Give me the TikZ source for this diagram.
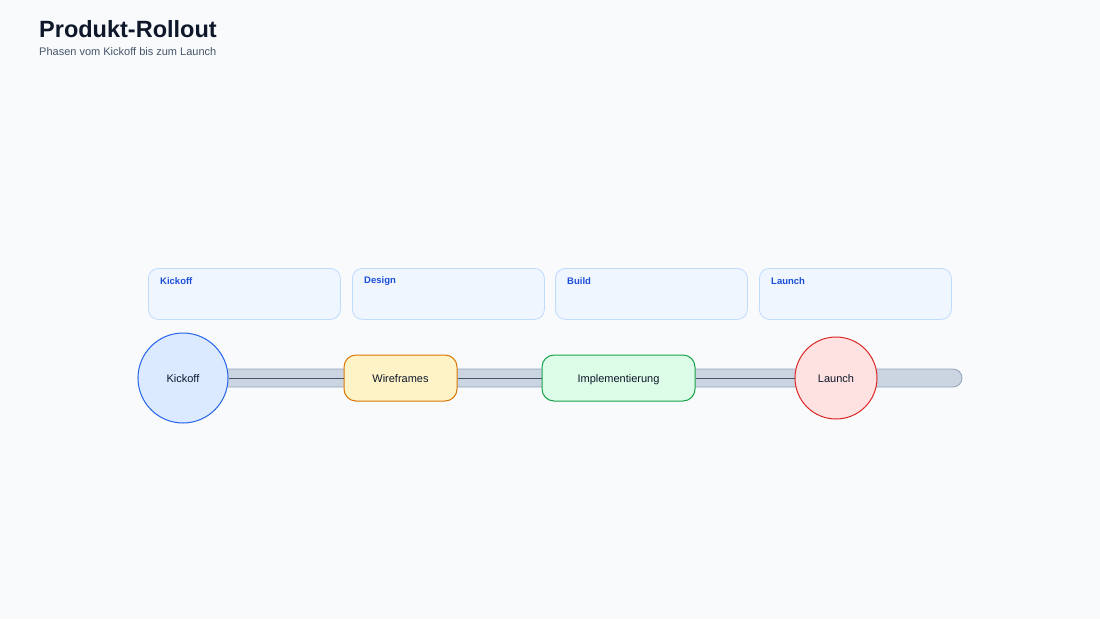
\documentclass[tikz,border=0pt]{standalone}
\usepackage{fontspec}
\setmainfont{Liberation Sans}
\usetikzlibrary{positioning, calc}

\definecolor{bgpaper}{HTML}{F8FAFC}
\definecolor{titleink}{HTML}{0F172A}
\definecolor{subink}{HTML}{475569}
\definecolor{cardfill}{HTML}{EFF6FF}
\definecolor{cardline}{HTML}{BFDBFE}
\definecolor{cardtext}{HTML}{1D4ED8}
\definecolor{trackfill}{HTML}{CBD5E1}
\definecolor{trackline}{HTML}{94A3B8}
\definecolor{linkgrey}{HTML}{475569}

\begin{document}
\begin{tikzpicture}[
    x=1pt, y=-1pt,
    card/.style={draw=cardline, fill=cardfill, line width=0.8pt, rounded corners=10pt,
        minimum width=192pt, minimum height=51pt, anchor=north west},
    cardtitle/.style={font=\bfseries\fontsize{9.5}{11}\selectfont, text=cardtext, anchor=west, inner sep=0pt},
    milestone/.style={draw, circle, line width=1pt, inner sep=0pt, text=titleink,
        text height=10pt, text depth=0.5pt, font=\fontsize{11}{13}\selectfont},
    phase/.style={draw, rectangle, line width=1pt, rounded corners=12pt, minimum height=46pt,
        text height=10pt, text depth=0.5pt, text=titleink, font=\fontsize{11}{13}\selectfont},
    link/.style={draw=linkgrey, line width=1pt}]
    % Background and margins
    \fill[bgpaper] (0,0) rectangle (1100,619);
    % Heading
    \node[anchor=base west, inner sep=0pt, text=titleink, font=\bfseries\fontsize{23.5}{27}\selectfont] (title) at (39,37) {Produkt-Rollout};
    \node[anchor=base west, inner sep=0pt, text=subink, font=\fontsize{11}{13}\selectfont] (subtitle) at (39,55) {Phasen vom Kickoff bis zum Launch};
    % Phase cards
    \foreach \label/\x [count=\i] in {Kickoff/148, Design/352, Build/555, Launch/759} {
        \node[card] (card\i) at (\x,268) {};
        \node[cardtitle] (cardlabel\i) at ($(card\i.north west)+(12,13.5)$) {\label};
    }
    % Track
    \draw[fill=trackfill, draw=trackline, line width=0.8pt, rounded corners=9pt] (138,369) rectangle (962,387);
    % Milestones and phases
    \node[milestone, minimum size=90pt, fill={rgb,255:red,219;green,234;blue,254}, draw={rgb,255:red,37;green,99;blue,235}] (kickoff) at (183,378) {Kickoff};
    \node[phase, minimum width=113pt, fill={rgb,255:red,254;green,243;blue,199}, draw={rgb,255:red,217;green,119;blue,6}] (wireframes) at (400.5,378) {Wireframes};
    \node[phase, minimum width=153pt, fill={rgb,255:red,220;green,252;blue,231}, draw={rgb,255:red,22;green,163;blue,74}] (impl) at (618.5,378) {Implementierung};
    \node[milestone, minimum size=82pt, fill={rgb,255:red,254;green,226;blue,226}, draw={rgb,255:red,220;green,38;blue,38}] (launch) at (836,378) {Launch};
    % Connectors
    \draw[link] (kickoff) -- (wireframes);
    \draw[link] (wireframes) -- (impl);
    \draw[link] (impl) -- (launch);
\end{tikzpicture}
\end{document}
